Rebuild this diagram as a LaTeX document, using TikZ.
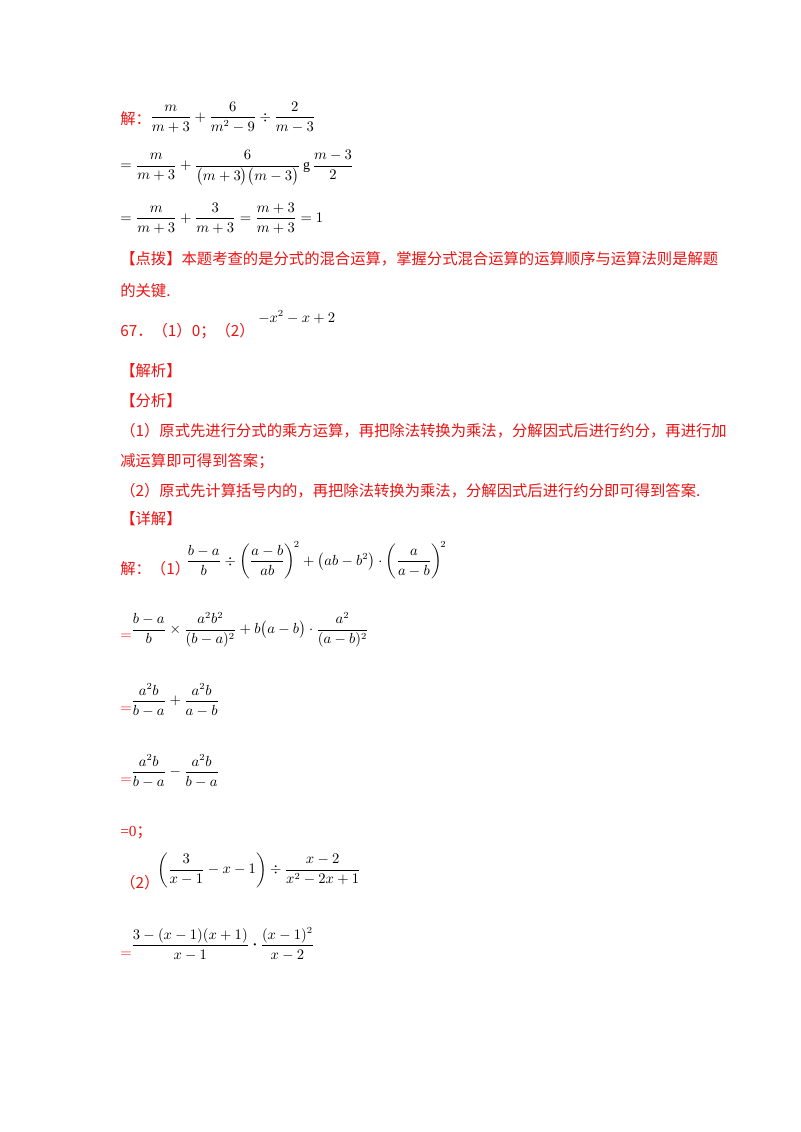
\documentclass[tikz,border=0pt]{standalone}
\usepackage{amsmath}
\usepackage{fontspec}
\setmainfont{Liberation Serif}
\newfontfamily\cjk{Noto Sans CJK SC}
\definecolor{rd}{RGB}{235,20,20}
\begin{document}
\begin{tikzpicture}[x=0.75pt,y=-0.75pt,
  tx/.style={anchor=base west,inner sep=0pt,font=\cjk\fontsize{11.5}{13}\selectfont},
  red/.style={text=rd},
  mth/.style={anchor=west,inner sep=0pt,font=\fontsize{10.5}{12}\selectfont}]
\useasboundingbox[fill=white] (0,0) rectangle (800,1132);
% part 1
\node[tx,red] (j1) at (120,124) {解：};
\node[mth] (e1) at (150,117) {$\dfrac{m}{m+3}+\dfrac{6}{m^2-9}\div\dfrac{2}{m-3}$};
\node[mth] (e2) at (120,168) {$=\dfrac{m}{m+3}+\dfrac{6}{\bigl(m+3\bigr)\bigl(m-3\bigr)}\,\text{g}\,\dfrac{m-3}{2}$};
\node[mth] (e3) at (120,218) {$=\dfrac{m}{m+3}+\dfrac{3}{m+3}=\dfrac{m+3}{m+3}=1$};
\node[tx,red] (d1) at (120,264) {【点拨】本题考查的是分式的混合运算，掌握分式混合运算的运算顺序与运算法则是解题};
\node[tx,red] (d2) at (120,296) {的关键.};
\node[tx,red] (q67) at (120,336) {67．（1）0；（2）};
\node[mth] (e67) at (258,317) {$-x^2-x+2$};
\node[tx,red] (jx) at (120,376) {【解析】};
\node[tx,red] (fx) at (120,406) {【分析】};
\node[tx,red] (f1) at (120,436) {（1）原式先进行分式的乘方运算，再把除法转换为乘法，分解因式后进行约分，再进行加};
\node[tx,red] (f2) at (120,466) {减运算即可得到答案；};
\node[tx,red] (f3) at (120,496) {（2）原式先计算括号内的，再把除法转换为乘法，分解因式后进行约分即可得到答案.};
\node[tx,red] (xj) at (120,524) {【详解】};
% part 2
\node[tx,red] (j2) at (120,574) {解：（1）};
\node[mth] (p1) at (186,560) {$\dfrac{b-a}{b}\div\left(\dfrac{a-b}{ab}\right)^{\!2}+\bigl(ab-b^2\bigr)\cdot\left(\dfrac{a}{a-b}\right)^{\!2}$};
\node[mth,text=rd] (q1) at (120,637) {$=$};
\node[mth] (p2) at (131,630) {$\dfrac{b-a}{b}\times\dfrac{a^2b^2}{(b-a)^2}+b\bigl(a-b\bigr)\cdot\dfrac{a^2}{(a-b)^2}$};
\node[mth,text=rd] (q2) at (120,710) {$=$};
\node[mth] (p3) at (131,700) {$\dfrac{a^2b}{b-a}+\dfrac{a^2b}{a-b}$};
\node[mth,text=rd] (q3) at (120,781) {$=$};
\node[mth] (p4) at (131,771) {$\dfrac{a^2b}{b-a}-\dfrac{a^2b}{b-a}$};
\node[tx,red,font=\fontsize{11.5}{13}\selectfont] (z0) at (120,836) {=0\cjk；};
\node[tx,red] (k2) at (120,888) {（2）};
\node[mth] (p5) at (157,870) {$\left(\dfrac{3}{x-1}-x-1\right)\div\dfrac{x-2}{x^2-2x+1}$};
\node[mth,text=rd] (q5) at (120,955) {$=$};
\node[mth] (p6) at (131,944) {$\dfrac{3-(x-1)(x+1)}{x-1}\boldsymbol{\cdot}\dfrac{(x-1)^2}{x-2}$};
\end{tikzpicture}
\end{document}
